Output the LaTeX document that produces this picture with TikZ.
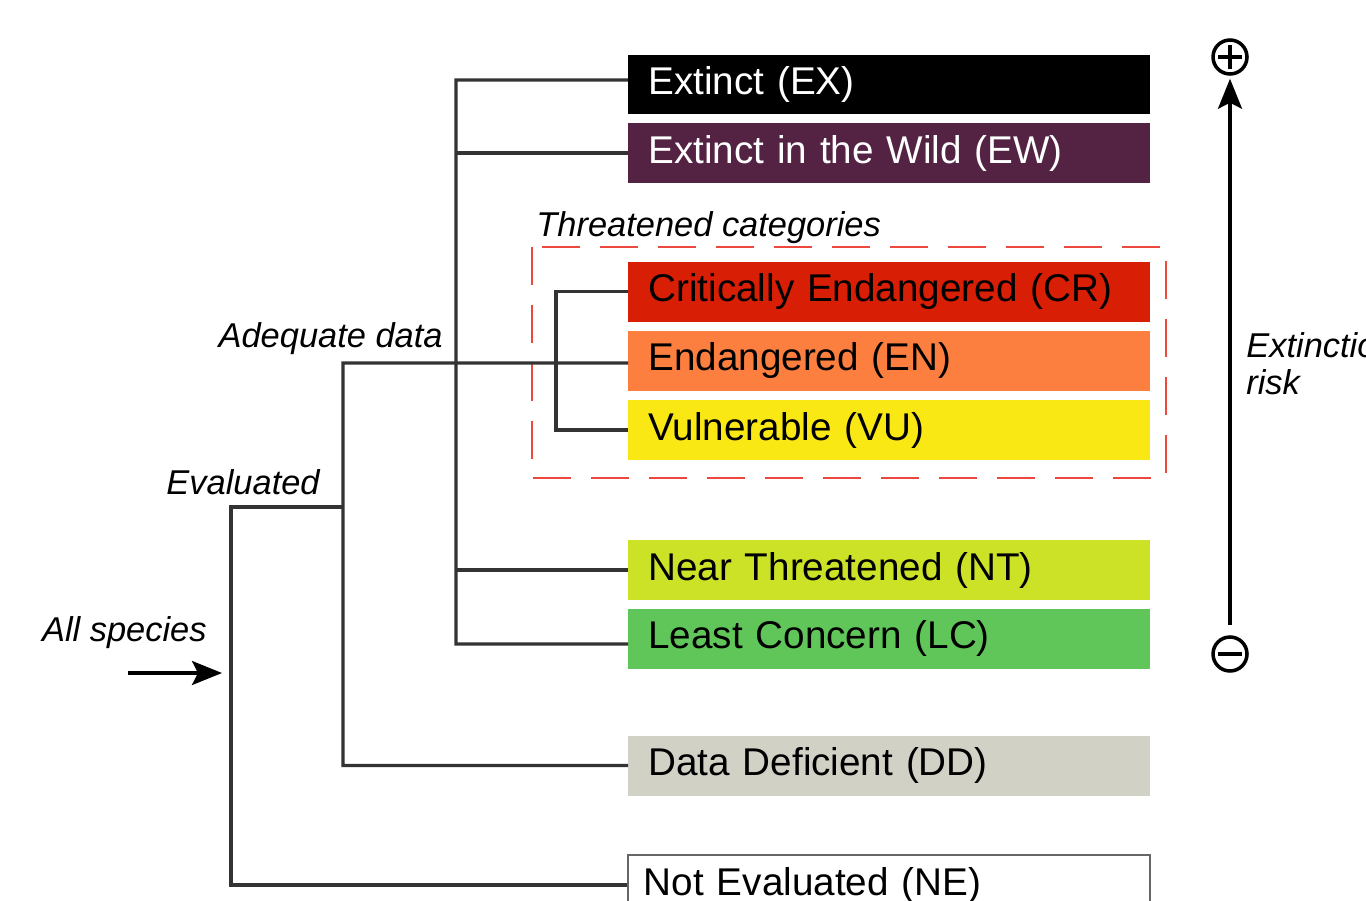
\documentclass[tikz,border=0pt]{standalone}
\usepackage{fontspec}
\setmainfont{Liberation Sans}
\usepackage{xcolor}
\definecolor{ewpurple}{RGB}{84,35,68}
\definecolor{crred}{RGB}{216,30,5}
\definecolor{enorange}{RGB}{252,127,63}
\definecolor{vuyellow}{RGB}{249,232,20}
\definecolor{ntgreen}{RGB}{204,226,38}
\definecolor{lcgreen}{RGB}{96,198,89}
\definecolor{ddgrey}{RGB}{209,209,198}
\definecolor{threatred}{RGB}{236,72,62}
\usepackage{tikz}
\usetikzlibrary{arrows.meta}

\begin{document}
\begin{tikzpicture}[x=0.02cm, y=-0.02cm,
    cat/.style={anchor=west, minimum height=1.2cm, text width=9.64cm, inner xsep=0.4cm, align=left, font=\fontsize{22}{26}\selectfont},
    lbl/.style={inner sep=0pt, font=\fontsize{19.6}{21}\selectfont\itshape},
    link/.style={line width=1.8pt, draw=black!80},
    tip/.style={-{Stealth[length=0.6cm, width=0.48cm, inset=0.12cm]}}]
    \useasboundingbox (0,0) rectangle (1366,900);
    % categories
    \node[cat, fill=black, text=white] (ex) at (628,84.5) {Extinct (EX)};
    \node[cat, fill=ewpurple, text=white] (ew) at (628,153) {Extinct in the Wild (EW)};
    \node[cat, fill=crred] (cr) at (628,291.5) {Critically Endangered (CR)};
    \node[cat, fill=enorange] (en) at (628,360.5) {Endangered (EN)};
    \node[cat, fill=vuyellow] (vu) at (628,430) {Vulnerable (VU)};
    \node[cat, fill=ntgreen] (nt) at (628,570) {Near Threatened (NT)};
    \node[cat, fill=lcgreen] (lc) at (628,638.5) {Least Concern (LC)};
    \node[cat, fill=ddgrey] (dd) at (628,765.5) {Data Deficient (DD)};
    \node[cat, draw=black!60, line width=1pt, fill=white, inner xsep=0.32cm, text width=9.8cm] (ne) at (627,885) {Not Evaluated (NE)};
    % threatened group
    \draw[threatred, line width=1.5pt, dash pattern=on 0.76cm off 0.4cm] (532,247) rectangle (1166,478);
    \node[lbl, anchor=west] (thrlbl) at (536,228) {Threatened categories};
    % tree
    \draw[link] ([yshift=0.09cm]ex.west) -| (456,644) -- ([yshift=-0.11cm]lc.west);
    \draw[link] (456,153) -- (ew.west);
    \draw[link] (456,570) -- (nt.west);
    \draw[link] (cr.west) -| (556,430) -- (vu.west);
    \draw[link] (dd.west) -| (343,363) -- ([yshift=-0.05cm]en.west);
    \draw[link] (ne.west) -| (231,507) -- (343,507);
    \coordinate (allin) at (128,673);
    \coordinate (allout) at (222,673);
    \draw[link, draw=black, tip] (allin) -- (allout);
    \node[lbl, anchor=east] (adlbl) at (443,339) {Adequate data};
    \node[lbl, anchor=east] (evlbl) at (320,482) {Evaluated};
    \node[lbl, anchor=east] (alllbl) at (207,633) {All species};
    % risk axis
    \node[circle, draw, line width=2pt, minimum size=0.68cm, inner sep=0pt] (plus) at (1230,57) {};
    \node[circle, draw, line width=2pt, minimum size=0.68cm, inner sep=0pt] (minus) at (1230,654) {};
    \draw[line width=2pt] (plus.center) +(-0.24cm,0) -- +(0.24cm,0) (plus.center) +(0,-0.24cm) -- +(0,0.24cm);
    \draw[line width=2pt] (minus.center) +(-0.24cm,0) -- +(0.24cm,0);
    \draw[link, draw=black, tip, shorten <=0.2cm, shorten >=0.06cm] (minus) -- (plus);
    \node[lbl, anchor=west, align=left] (risklbl) at (1246,364) {Extinction\\risk};
\end{tikzpicture}
\end{document}
